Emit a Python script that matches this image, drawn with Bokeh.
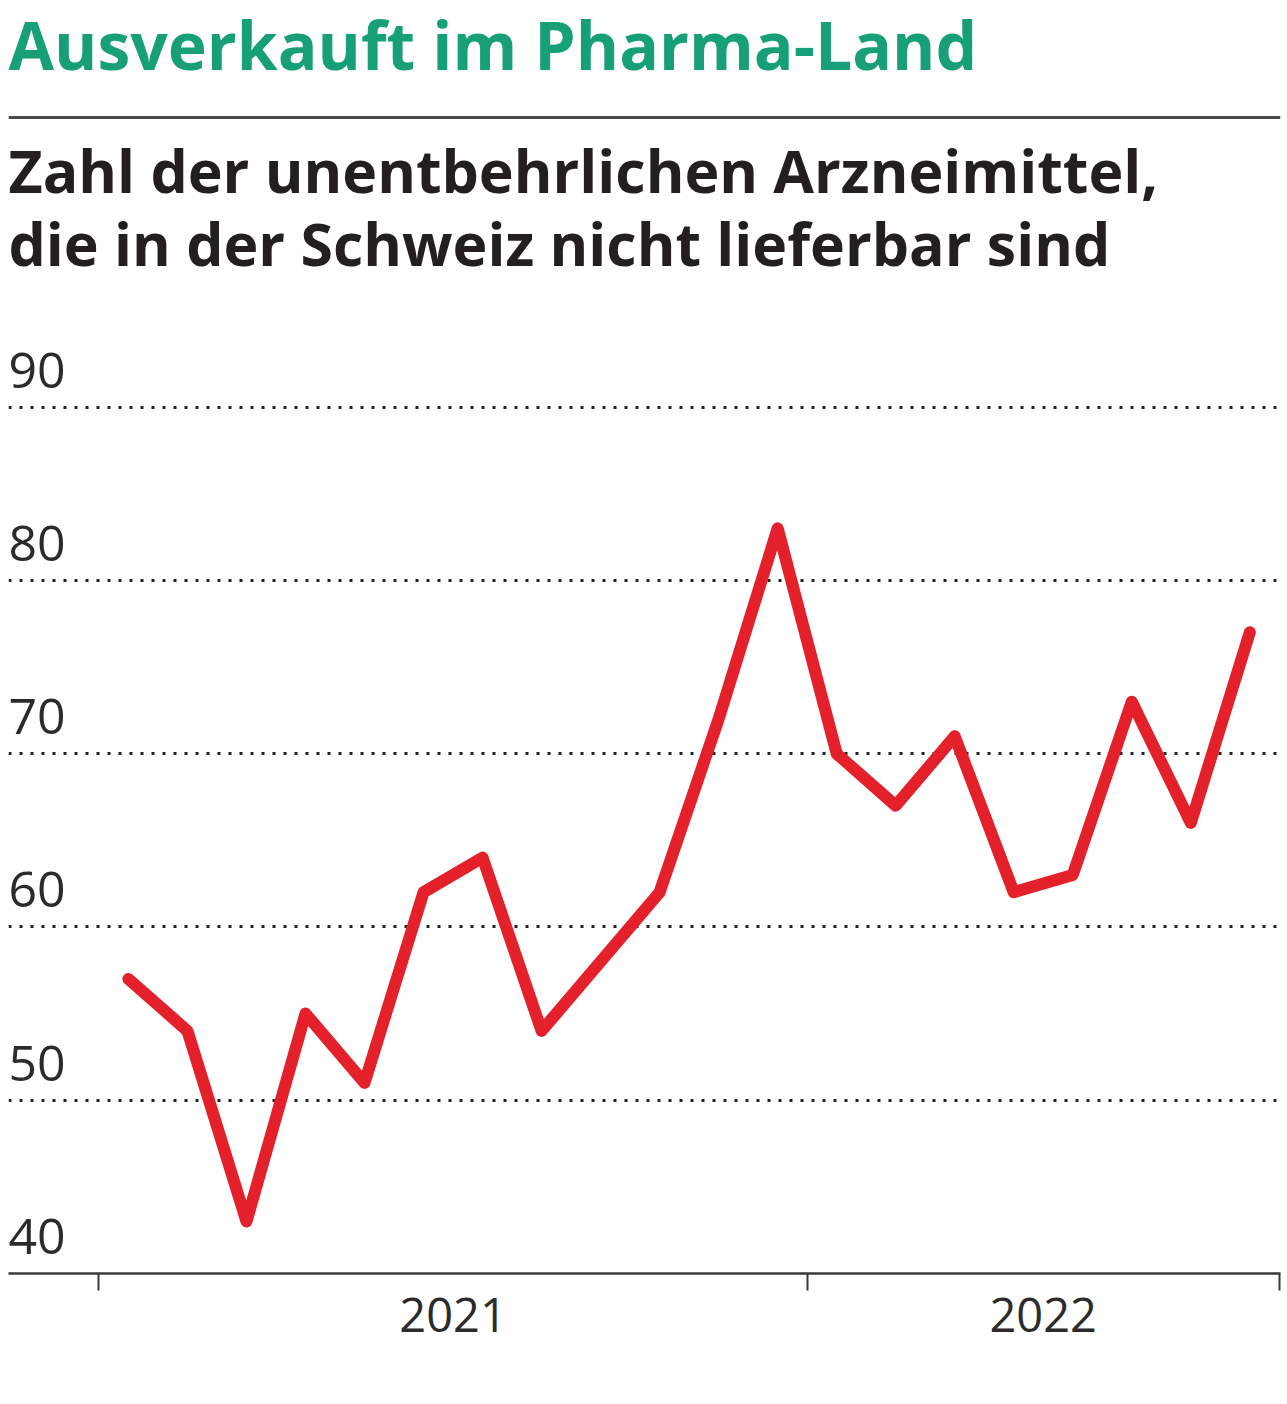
from bokeh.plotting import figure
from bokeh.models import FixedTicker, Range1d, Span
from bokeh.embed import file_html
from bokeh.resources import INLINE
from bokeh.core.properties import value

# ---- data (monthly, Jan 2021 .. Aug 2022) ----
month_index = list(range(20))
counts = [57, 54, 43, 55, 51, 62, 64, 54, 58, 62, 72, 83,
          70, 67, 71, 62, 63, 73, 66, 77]
y_ticks = [40, 50, 60, 70, 80, 90]
y_tick_labels = ["40", "50", "60", "70", "80", "90"]
year_centers = [5.5, 15.5]
year_labels = ["2021", "2022"]
year_boundaries = [-0.5, 11.5, 19.5]

title_text = "Ausverkauft im Pharma-Land"
subtitle_lines = ["Zahl der unentbehrlichen Arzneimittel,",
                  "die in der Schweiz nicht lieferbar sind"]

# ---- layout ----
LEFT = 8
AXIS_Y = 1273            # page y of the x axis line
FRAME_W, FRAME_H = 1272, AXIS_Y
W, H = LEFT + FRAME_W + 4, 1400
X0, X1 = -2.032, 19.52
PX_PER_Y = 1265 / 73
Y0 = 40
Y1 = Y0 + FRAME_H / PX_PER_Y


def y_at(page_y):
    """data y for a vertical page position"""
    return Y0 + (AXIS_Y - page_y) / PX_PER_Y


p = figure(width=W, height=H, output_backend="svg", toolbar_location=None,
           x_range=Range1d(X0, X1), y_range=Range1d(Y0, Y1),
           y_axis_location=None, min_border_left=LEFT,
           min_border_right=W - LEFT - FRAME_W,
           min_border_top=0, min_border_bottom=H - FRAME_H)
p.outline_line_color = None
p.background_fill_color = "white"
p.border_fill_color = "white"

# grid
p.xgrid.visible = False
p.ygrid.ticker = FixedTicker(ticks=[t for t in y_ticks if t > Y0])
p.ygrid.grid_line_color = "#222222"
p.ygrid.grid_line_width = 3.2
p.ygrid.grid_line_dash = "3 8"

# x axis
ax = p.xaxis[0]
ax.ticker = FixedTicker(ticks=year_centers, minor_ticks=year_boundaries)
ax.major_label_overrides = {c: l for c, l in zip(year_centers, year_labels)}
ax.major_tick_line_color = None
ax.major_tick_in = 0
ax.major_tick_out = 0
ax.minor_tick_in = 0
ax.minor_tick_out = 17
ax.minor_tick_line_color = "#3a3a3a"
ax.minor_tick_line_width = 2
ax.axis_line_color = "#3a3a3a"
ax.axis_line_width = 2.5
ax.major_label_standoff = 7
ax.major_label_text_font = "Open Sans"
ax.major_label_text_font_size = "47px"
ax.major_label_text_color = "#2b2b2b"

# y labels above grid lines
p.text(x=[X0] * len(y_ticks), y=y_ticks, text=y_tick_labels,
       text_font=value("Open Sans"), text_font_size="50px",
       text_color="#2b2b2b", text_align="left", text_baseline="alphabetic",
       x_offset=0, y_offset=-37)

# data line
p.line(month_index, counts, line_color="#e4202b", line_width=12,
       line_join="round", line_cap="round")

# titles
p.text(x=[X0], y=[y_at(43)], text=[title_text],
       text_font=value("Open Sans"), text_font_style="bold",
       text_font_size="66px", text_color="#17a077",
       text_align="left", text_baseline="alphabetic")
p.add_layout(Span(location=y_at(117), dimension="width",
                  line_color="#4a4a4a", line_width=3))
p.text(x=[X0, X0], y=[y_at(169), y_at(242)], text=subtitle_lines,
       text_font=value("Open Sans"), text_font_style="bold",
       text_font_size="59px", text_color="#231f20",
       text_align="left", text_baseline="alphabetic")

open("out.html", "w").write(file_html(p, INLINE))
